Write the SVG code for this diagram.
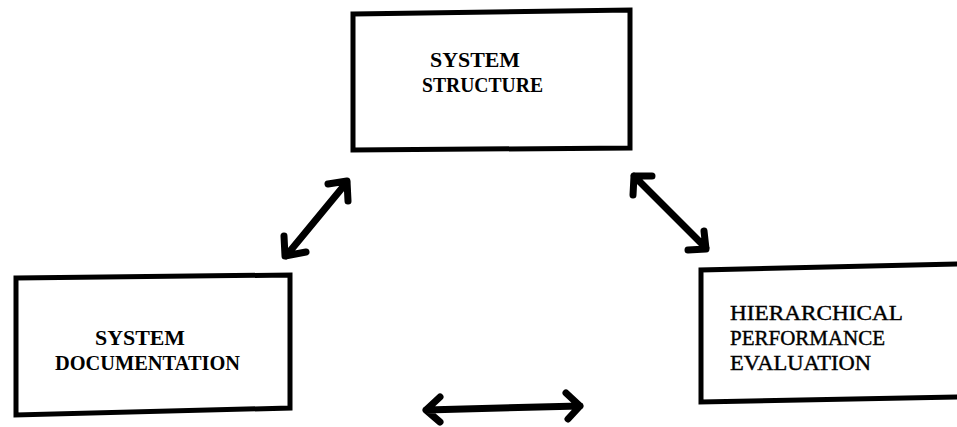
<svg xmlns="http://www.w3.org/2000/svg" width="957" height="427" viewBox="0 0 957 427">
<style>
.box{fill:none;stroke:#000;stroke-width:5;stroke-linejoin:miter}
.lbl{font-family:"Liberation Serif","Times New Roman",serif;font-weight:bold;font-size:21px;fill:#000}
.lt{font-weight:normal;stroke:#000;stroke-width:0.4}
.c{fill:none;stroke:#000;stroke-width:7;stroke-linecap:round;stroke-linejoin:round}
</style>
<rect width="957" height="427" fill="#fff"/>
<g id="system-structure">
<path class="box" d="M353,14 L630,10 L630,148 L353,150 Z"/>
<text class="lbl" x="430" y="67" textLength="90" lengthAdjust="spacingAndGlyphs">SYSTEM</text>
<text class="lbl" x="422" y="92" textLength="121" lengthAdjust="spacingAndGlyphs">STRUCTURE</text>
</g>
<g id="system-documentation">
<path class="box" d="M16,278 L290,275 L290,408 L16,415 Z"/>
<text class="lbl" x="95" y="345" textLength="90" lengthAdjust="spacingAndGlyphs">SYSTEM</text>
<text class="lbl" x="55" y="370" textLength="185" lengthAdjust="spacingAndGlyphs">DOCUMENTATION</text>
</g>
<g id="hierarchical-performance-evaluation">
<path class="box" d="M962,264 L701,270 L701,402 L962,397"/>
<text class="lbl lt" x="730" y="320" textLength="173" lengthAdjust="spacingAndGlyphs">HIERARCHICAL</text>
<text class="lbl lt" x="730" y="345" textLength="155" lengthAdjust="spacingAndGlyphs">PERFORMANCE</text>
<text class="lbl lt" x="730" y="370" textLength="141" lengthAdjust="spacingAndGlyphs">EVALUATION</text>
</g>
<g id="connectors">
<path class="c" d="M286,256 L347,182 M328,184 L347,181 L348,201 M284,236 L285,256 L306,252"/>
<path class="c" d="M634,176 L706,248 M633,195 L634,176 L652,176 M688,250 L706,249 L704,231"/>
<path class="c" d="M426,410 L580,406 M440,397 L426,410 L440,422 M566,393 L580,406 L568,419"/>
</g>
</svg>
